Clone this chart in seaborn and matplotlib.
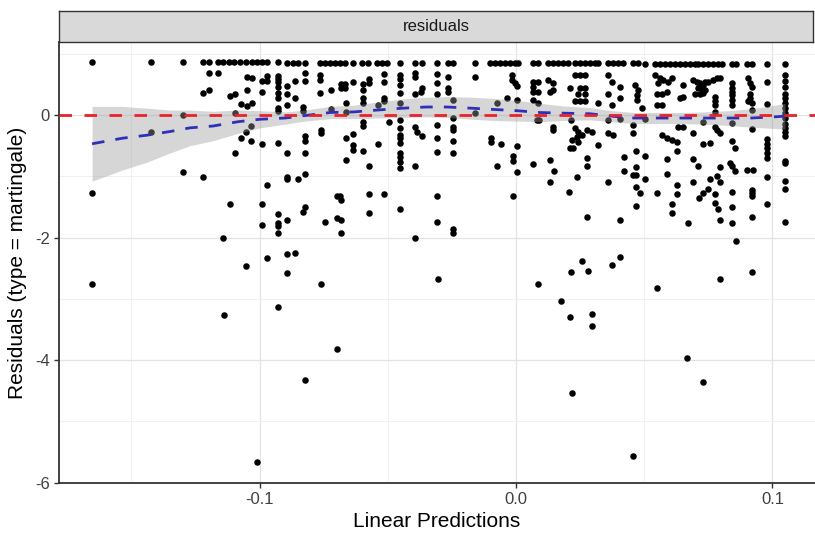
import matplotlib
matplotlib.use("Agg")
import matplotlib.pyplot as plt
from matplotlib.ticker import MultipleLocator
import pandas as pd
import seaborn as sns

# martingale residuals vs linear predictor
# top row: subjects with an event (residual close to 1)
top_row_pts = [
    (-0.1652, 0.86), (-0.1424, 0.86), (-0.1297, 0.86), (-0.1220, 0.86), (-0.1197, 0.86),
    (-0.1163, 0.86), (-0.1141, 0.86), (-0.1119, 0.86), (-0.1098, 0.86), (-0.1076, 0.86),
    (-0.1054, 0.86), (-0.1030, 0.86), (-0.1011, 0.86), (-0.0991, 0.86), (-0.0970, 0.86),
    (-0.0927, 0.86), (-0.0894, 0.85), (-0.0868, 0.85), (-0.0849, 0.85), (-0.0823, 0.85),
    (-0.0764, 0.85), (-0.0745, 0.85), (-0.0725, 0.85), (-0.0706, 0.85), (-0.0686, 0.85),
    (-0.0667, 0.85), (-0.0634, 0.85), (-0.0602, 0.85), (-0.0576, 0.85), (-0.0543, 0.85),
    (-0.0524, 0.85), (-0.0504, 0.85), (-0.0452, 0.85), (-0.0394, 0.85), (-0.0368, 0.85),
    (-0.0309, 0.85), (-0.0264, 0.85), (-0.0244, 0.85), (-0.0160, 0.84), (-0.0101, 0.84),
    (-0.0082, 0.84), (-0.0062, 0.84), (-0.0043, 0.84), (-0.0023, 0.84), (-0.0004, 0.84),
    (0.0009, 0.84), (0.0067, 0.84), (0.0087, 0.84), (0.0126, 0.84), (0.0145, 0.84),
    (0.0165, 0.84), (0.0184, 0.84), (0.0204, 0.84), (0.0230, 0.84), (0.0250, 0.84),
    (0.0269, 0.84), (0.0289, 0.84), (0.0308, 0.84), (0.0321, 0.84), (0.0358, 0.84),
    (0.0377, 0.84), (0.0396, 0.84), (0.0418, 0.84), (0.0457, 0.84), (0.0477, 0.84),
    (0.0503, 0.83), (0.0542, 0.83), (0.0561, 0.83), (0.0581, 0.83), (0.0600, 0.83),
    (0.0620, 0.83), (0.0639, 0.83), (0.0659, 0.83), (0.0678, 0.83), (0.0698, 0.83),
    (0.0711, 0.83), (0.0730, 0.83), (0.0750, 0.83), (0.0769, 0.83), (0.0789, 0.83),
    (0.0802, 0.83), (0.0841, 0.83), (0.0858, 0.83), (0.0902, 0.83), (0.0919, 0.83),
    (0.0980, 0.83), (0.1049, 0.83),
]

# everything below the top row
other_pts = [
    # x < -0.08
    (-0.1297, 0.00), (-0.1424, -0.27), (-0.1297, -0.93), (-0.1652, -1.27), (-0.1652, -2.75),
    (-0.1197, 0.68), (-0.1161, 0.68), (-0.1219, 0.36), (-0.1197, 0.41), (-0.1115, 0.31),
    (-0.1096, 0.35), (-0.1050, 0.62), (-0.1030, 0.60), (-0.1050, 0.41), (-0.1073, 0.18),
    (-0.1050, 0.15), (-0.1030, 0.19), (-0.1096, 0.03), (-0.0991, 0.56), (-0.0970, 0.64),
    (-0.0970, 0.56), (-0.0991, 0.38), (-0.0927, 0.64), (-0.0927, 0.59), (-0.0927, 0.53),
    (-0.0927, 0.46), (-0.0927, 0.36), (-0.0927, 0.27), (-0.0927, 0.11), (-0.0927, 0.07),
    (-0.0894, 0.47), (-0.0894, 0.35), (-0.0894, 0.16), (-0.0862, 0.56), (-0.0862, 0.27),
    (-0.0823, 0.69), (-0.0823, 0.56), (-0.0829, 0.13), (-0.0829, 0.07), (-0.1034, -0.18),
    (-0.1053, -0.27), (-0.1073, -0.38), (-0.1034, -0.42), (-0.0991, -0.47), (-0.0927, -0.45),
    (-0.1096, -0.62), (-0.0894, -0.62), (-0.0823, -0.62), (-0.0823, -0.34), (-0.0823, -0.42),
    (-0.1219, -1.02), (-0.0972, -1.14), (-0.0894, -1.01), (-0.0894, -1.05), (-0.0849, -1.05),
    (-0.0823, -0.96), (-0.1115, -1.46), (-0.0991, -1.46), (-0.0823, -1.50), (-0.0829, -1.58),
    (-0.0991, -1.79), (-0.0927, -1.62), (-0.0927, -1.77), (-0.0927, -1.81), (-0.0927, -1.93),
    (-0.0892, -1.72), (-0.1141, -2.00), (-0.1053, -2.46), (-0.0972, -2.34), (-0.0892, -2.27),
    (-0.0863, -2.25), (-0.0892, -2.58), (-0.1138, -3.27), (-0.0927, -3.14), (-0.0824, -4.33),
    (-0.1011, -5.67),
    # -0.08 .. -0.03
    (-0.0764, 0.65), (-0.0764, 0.57), (-0.0764, 0.36), (-0.0721, 0.41), (-0.0682, 0.50),
    (-0.0667, 0.50), (-0.0682, 0.44), (-0.0667, 0.44), (-0.0634, 0.53), (-0.0598, 0.50),
    (-0.0598, 0.41), (-0.0572, 0.58), (-0.0572, 0.52), (-0.0598, 0.27), (-0.0598, 0.19),
    (-0.0663, 0.19), (-0.0513, 0.67), (-0.0513, 0.53), (-0.0513, 0.27), (-0.0513, 0.22),
    (-0.0537, 0.16), (-0.0452, 0.65), (-0.0452, 0.59), (-0.0452, 0.49), (-0.0452, 0.36),
    (-0.0452, 0.19), (-0.0394, 0.68), (-0.0394, 0.62), (-0.0365, 0.44), (-0.0370, 0.38),
    (-0.0394, 0.35), (-0.0309, 0.67), (-0.0309, 0.52), (-0.0309, 0.35), (-0.0721, 0.10),
    (-0.0663, 0.05), (-0.0761, -0.24), (-0.0761, -0.29), (-0.0598, -0.11), (-0.0598, -0.18),
    (-0.0494, -0.11), (-0.0452, -0.08), (-0.0452, -0.22), (-0.0452, -0.33), (-0.0452, -0.38),
    (-0.0452, -0.46), (-0.0452, -0.62), (-0.0452, -0.68), (-0.0452, -0.76), (-0.0452, -0.87),
    (-0.0394, -0.20), (-0.0387, -0.27), (-0.0368, -0.35), (-0.0309, -0.16), (-0.0309, -0.38),
    (-0.0309, -0.60), (-0.0663, -0.38), (-0.0634, -0.31), (-0.0634, -0.49), (-0.0634, -0.57),
    (-0.0598, -0.59), (-0.0539, -0.47), (-0.0663, -0.73), (-0.0572, -0.83), (-0.0394, -0.83),
    (-0.0699, -1.33), (-0.0686, -1.32), (-0.0682, -1.39), (-0.0572, -1.29), (-0.0513, -1.29),
    (-0.0452, -1.54), (-0.0309, -1.32), (-0.0745, -1.74), (-0.0699, -1.68), (-0.0682, -1.72),
    (-0.0572, -1.60), (-0.0309, -1.74), (-0.0682, -1.93), (-0.0394, -2.00), (-0.0760, -2.75),
    (-0.0305, -2.68), (-0.0698, -3.82),
    # -0.03 .. 0.02
    (-0.0264, 0.62), (-0.0160, 0.62), (-0.0264, 0.44), (-0.0264, 0.38), (-0.0244, 0.24),
    (-0.0017, 0.65), (-0.0017, 0.57), (-0.0004, 0.52), (0.0005, 0.47), (0.0067, 0.54),
    (0.0067, 0.46), (0.0087, 0.54), (0.0087, 0.38), (0.0067, 0.38), (0.0126, 0.57),
    (0.0145, 0.52), (0.0145, 0.41), (0.0133, 0.38), (-0.0036, 0.27), (0.0005, 0.24),
    (-0.0075, 0.19), (0.0067, 0.24), (0.0087, 0.19), (-0.0160, 0.03), (-0.0244, -0.05),
    (-0.0244, -0.19), (-0.0244, -0.24), (0.0081, -0.09), (0.0091, -0.09), (0.0145, -0.19),
    (0.0145, -0.24), (-0.0244, -0.42), (-0.0244, -0.62), (-0.0099, -0.38), (-0.0099, -0.44),
    (-0.0058, -0.47), (0.0005, -0.51), (-0.0013, -0.67), (-0.0013, -0.75), (-0.0075, -0.83),
    (0.0005, -0.93), (0.0067, -0.80), (0.0133, -0.73), (0.0148, -0.91), (0.0133, -1.10),
    (-0.0013, -1.33), (-0.0244, -1.86), (-0.0244, -1.92), (0.0208, -1.25), (0.0085, -2.75),
    (0.0177, -3.03),
    # 0.02 .. 0.07
    (0.0230, 0.65), (0.0250, 0.65), (0.0269, 0.65), (0.0211, 0.44), (0.0250, 0.44),
    (0.0269, 0.44), (0.0243, 0.35), (0.0269, 0.35), (0.0230, 0.22), (0.0250, 0.22),
    (0.0269, 0.22), (0.0321, 0.19), (0.0358, 0.65), (0.0373, 0.54), (0.0358, 0.35),
    (0.0405, 0.46), (0.0405, 0.27), (0.0373, 0.16), (0.0464, 0.49), (0.0477, 0.41),
    (0.0471, 0.33), (0.0471, 0.24), (0.0490, 0.11), (0.0542, 0.65), (0.0561, 0.60),
    (0.0574, 0.57), (0.0594, 0.54), (0.0555, 0.52), (0.0607, 0.60), (0.0549, 0.35),
    (0.0568, 0.35), (0.0588, 0.38), (0.0549, 0.16), (0.0568, 0.16), (0.0652, 0.49),
    (0.0639, 0.27), (0.0652, 0.30), (0.0214, -0.08), (0.0230, -0.22), (0.0243, -0.27),
    (0.0256, -0.33), (0.0237, -0.36), (0.0217, -0.41), (0.0243, -0.44), (0.0211, -0.54),
    (0.0223, -0.54), (0.0276, -0.24), (0.0295, -0.27), (0.0321, -0.49), (0.0276, -0.71),
    (0.0276, -0.83), (0.0360, -0.08), (0.0360, -0.30), (0.0379, -0.33), (0.0405, -0.07),
    (0.0457, -0.16), (0.0457, -0.30), (0.0503, -0.07), (0.0422, -0.69), (0.0468, -0.59),
    (0.0503, -0.67), (0.0422, -0.91), (0.0468, -0.85), (0.0457, -0.98), (0.0468, -0.98),
    (0.0503, -1.04), (0.0468, -1.17), (0.0483, -1.27), (0.0468, -1.48), (0.0358, -1.10),
    (0.0237, -1.01), (0.0276, -1.67), (0.0405, -1.72), (0.0568, -0.33), (0.0588, -0.38),
    (0.0607, -0.41), (0.0627, -0.44), (0.0627, -0.59), (0.0588, -0.72), (0.0588, -0.96),
    (0.0633, -0.19), (0.0652, -0.19), (0.0691, -0.72), (0.0549, -1.27), (0.0627, -1.14),
    (0.0627, -1.29), (0.0607, -1.45), (0.0607, -1.60), (0.0691, -1.10), (0.0669, -1.77),
    (0.0211, -3.30), (0.0216, -2.56), (0.0257, -2.39), (0.0281, -2.54), (0.0297, -3.25),
    (0.0297, -3.45), (0.0375, -2.44), (0.0405, -2.32), (0.0217, -4.54), (0.0457, -5.57),
    (0.0549, -2.82), (0.0668, -3.97),
    # x > 0.07
    (0.0691, 0.57), (0.0704, 0.54), (0.0717, 0.52), (0.0730, 0.49), (0.0737, 0.54),
    (0.0750, 0.54), (0.0769, 0.57), (0.0782, 0.60), (0.0795, 0.60), (0.0711, 0.44),
    (0.0724, 0.42), (0.0737, 0.41), (0.0698, 0.35), (0.0717, 0.35), (0.0730, 0.36),
    (0.0776, 0.30), (0.0776, 0.22), (0.0776, 0.16), (0.0776, 0.05), (0.0841, 0.52),
    (0.0841, 0.44), (0.0841, 0.38), (0.0841, 0.33), (0.0841, 0.24), (0.0841, 0.16),
    (0.0906, 0.60), (0.0912, 0.52), (0.0919, 0.46), (0.0912, 0.35), (0.0912, 0.27),
    (0.0906, 0.22), (0.0919, 0.19), (0.0919, 0.08), (0.0980, 0.54), (0.0980, 0.18),
    (0.1049, 0.65), (0.1049, 0.56), (0.1049, 0.46), (0.1049, 0.35), (0.1049, 0.27),
    (0.1049, 0.19), (0.1049, 0.11), (0.1049, 0.03), (0.1049, -0.05), (0.1049, -0.14),
    (0.1049, -0.22), (0.1049, -0.27), (0.1049, -0.34), (0.0730, -0.11), (0.0776, -0.19),
    (0.0782, -0.24), (0.0795, -0.29), (0.0841, -0.13), (0.0919, -0.23), (0.0691, -0.29),
    (0.0730, -0.48), (0.0756, -0.45), (0.0841, -0.42), (0.0854, -0.54), (0.0980, -0.40),
    (0.0980, -0.47), (0.0980, -0.54), (0.0980, -0.62), (0.0980, -0.70), (0.0711, -0.84),
    (0.0795, -0.85), (0.0834, -0.79), (0.0841, -0.83), (0.0854, -0.91), (0.0902, -0.90),
    (0.0923, -0.90), (0.1049, -0.75), (0.1049, -0.79), (0.0756, -1.05), (0.0782, -1.00),
    (0.0795, -1.09), (0.0980, -1.01), (0.1049, -1.07), (0.1049, -1.21), (0.0750, -1.21),
    (0.0730, -1.27), (0.0715, -1.36), (0.0776, -1.29), (0.0841, -1.25), (0.0919, -1.22),
    (0.0919, -1.28), (0.0919, -1.33), (0.0776, -1.44), (0.0789, -1.54), (0.0841, -1.50),
    (0.0980, -1.45), (0.0795, -1.71), (0.0841, -1.77), (0.0919, -1.67), (0.1049, -1.74),
    (0.0730, -4.36), (0.0794, -2.68), (0.0857, -2.05), (0.0919, -2.56),
]

# loess smoother, with half-width of its grey band
smooth_x = [-0.1653, -0.1536, -0.1439, -0.1349, -0.1271, -0.1181, -0.1084, -0.0998,
            -0.0901, -0.0823, -0.0725, -0.0632, -0.0542, -0.0444, -0.0351, -0.0269,
            -0.0172, -0.0086, 0.0004, 0.0094, 0.0179, 0.0289, 0.0374, 0.0460,
            0.0550, 0.0643, 0.0737, 0.0830, 0.0916, 0.1010, 0.1049]
smooth_fit = [-0.47, -0.38, -0.33, -0.27, -0.21, -0.18, -0.11, -0.07,
              -0.05, -0.01, 0.04, 0.05, 0.08, 0.11, 0.13, 0.13,
              0.11, 0.09, 0.07, 0.04, 0.03, 0.02, -0.02, -0.05,
              -0.05, -0.05, -0.05, -0.05, -0.05, -0.03, -0.02]
smooth_hw = [0.61, 0.52, 0.44, 0.35, 0.29, 0.24, 0.19, 0.14,
             0.10, 0.09, 0.10, 0.11, 0.13, 0.15, 0.16, 0.17,
             0.18, 0.18, 0.17, 0.15, 0.12, 0.10, 0.09, 0.09,
             0.09, 0.09, 0.10, 0.12, 0.15, 0.19, 0.21]

x_ticks = [-0.1, 0.0, 0.1]
y_ticks = [-6, -4, -2, 0]

df = pd.DataFrame(top_row_pts + other_pts, columns=["lp", "resid"])
sm = pd.DataFrame({"x": smooth_x, "fit": smooth_fit, "hw": smooth_hw})
sm["lo"] = sm["fit"] - sm["hw"]
sm["hi"] = sm["fit"] + sm["hw"]

sns.set_style("white")
plt.rcParams["font.family"] = ["Liberation Sans Narrow", "Liberation Sans", "DejaVu Sans"]

fig = plt.figure(figsize=(8.15, 5.38), dpi=100)
ax = fig.add_axes([0.0724, 0.1028, 0.9276, 0.8186])

sns.scatterplot(data=df, x="lp", y="resid", color="black", s=22, linewidth=0,
                ax=ax, zorder=3)
ax.fill_between(sm["x"], sm["lo"], sm["hi"], color="#999999", alpha=0.4,
                linewidth=0, zorder=4)
sns.lineplot(data=sm, x="x", y="fit", color="#2F2FB8", linewidth=2.0,
             ax=ax, zorder=5)
ax.lines[-1].set_dashes((4.5, 4))
ax.axhline(0, color="#E8232B", linewidth=2.0, dashes=(4.5, 4.5), zorder=6)

ax.set_xlim(-0.1782, 0.1166)
ax.set_ylim(-6.0, 1.186)
ax.set_xticks(x_ticks)
ax.set_xticklabels(["-0.1", "0.0", "0.1"])
ax.set_yticks(y_ticks)
ax.set_yticklabels(["-6", "-4", "-2", "0"])
ax.xaxis.set_minor_locator(MultipleLocator(0.05))
ax.yaxis.set_minor_locator(MultipleLocator(1))

ax.grid(which="major", color="#E3E3E3", linewidth=0.9)
ax.grid(which="minor", color="#EFEFEF", linewidth=0.6)
ax.set_axisbelow(True)

for side in ["top", "right"]:
    ax.spines[side].set_visible(False)
for side in ["left", "bottom"]:
    ax.spines[side].set_color("#333333")
    ax.spines[side].set_linewidth(1.3)

ax.tick_params(axis="both", which="major", length=3.5, width=1, color="#333333",
               labelsize=12, labelcolor="#404040", pad=3, bottom=True, left=True)
ax.tick_params(axis="both", which="minor", length=0)
ax.set_xlabel("Linear Predictions", fontsize=15, color="black", labelpad=4)
ax.set_ylabel("Residuals (type = martingale)", fontsize=15, color="black", labelpad=6)

# facet strip
strip = fig.add_axes([0.0724, 0.9214, 0.9251, 0.058])
strip.set_facecolor("#D9D9D9")
strip.set_xticks([])
strip.set_yticks([])
for sp in strip.spines.values():
    sp.set_color("#333333")
    sp.set_linewidth(1.0)
strip.text(0.5, 0.5, "residuals", ha="center", va="center", fontsize=12,
           color="#1A1A1A", transform=strip.transAxes)

fig.savefig("out.png", dpi=100)
